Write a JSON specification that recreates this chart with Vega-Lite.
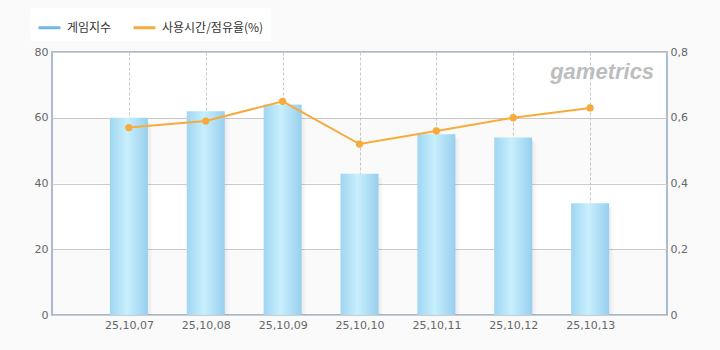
{
  "$schema": "https://vega.github.io/schema/vega-lite/v6.json",
  "autosize": {"type": "none"},
  "width": 615,
  "height": 263,
  "padding": {"left": 52, "top": 52, "right": 53, "bottom": 35},
  "background": "#fafafa",
  "config": {
    "view": {"fill": "white", "stroke": "#a9bcd2", "strokeWidth": 2},
    "font": "DejaVu Sans",
    "axis": {"labelColor": "#666666", "labelFontSize": 11, "labelFont": "DejaVu Sans", "domain": false, "ticks": false, "title": null}
  },
  "datasets": {
    "main": [
      {"date": "25,10,07", "index": 60, "share": 0.57},
      {"date": "25,10,08", "index": 62, "share": 0.59},
      {"date": "25,10,09", "index": 64, "share": 0.65},
      {"date": "25,10,10", "index": 43, "share": 0.52},
      {"date": "25,10,11", "index": 55, "share": 0.56},
      {"date": "25,10,12", "index": 54, "share": 0.60},
      {"date": "25,10,13", "index": 34, "share": 0.63}
    ],
    "bands": [{"lo": 0, "hi": 20}, {"lo": 40, "hi": 60}],
    "mark": [{"label": "gametrics", "date": "25,10,13", "y": 74}]
  },
  "layer": [
    {
      "layer": [
        {
          "data": {"name": "bands"},
          "mark": {"type": "rect", "fill": "black", "opacity": 0.02},
          "encoding": {
            "y": {"field": "lo", "type": "quantitative", "scale": {"domain": [0, 80], "nice": false}},
            "y2": {"field": "hi"}
          }
        },
        {
          "data": {"name": "main"},
          "mark": {"type": "bar", "width": 38, "xOffset": 5, "yOffset": 4, "clip": true,
            "fill": {"gradient": "linear", "x1": 0, "x2": 1, "y1": 0, "y2": 0,
              "stops": [{"offset": 0, "color": "rgba(0,0,0,0.12)"}, {"offset": 0.85, "color": "rgba(0,0,0,0.08)"}, {"offset": 1, "color": "rgba(0,0,0,0)"}]}},
          "encoding": {
            "x": {"field": "date", "type": "ordinal", "scale": {"type": "point", "padding": 1}},
            "y": {"field": "index", "type": "quantitative"}
          }
        },
        {
          "data": {"name": "main"},
          "mark": {"type": "bar", "width": 38, "strokeWidth": 0,
            "fill": {"gradient": "linear", "x1": 0, "x2": 1, "y1": 0, "y2": 0,
              "stops": [{"offset": 0, "color": "#9fd6f2"}, {"offset": 0.45, "color": "#c8effd"}, {"offset": 1, "color": "#98cfee"}]}},
          "encoding": {
            "x": {"field": "date", "type": "ordinal", "scale": {"type": "point", "padding": 1},
              "axis": {"grid": true, "gridColor": "#c8c8c8", "gridDash": [3, 2], "labelPadding": 10, "labelAngle": 0, "labelAlign": "center", "labelBound": false, "labelFlush": false}},
            "y": {"field": "index", "type": "quantitative",
              "axis": {"orient": "left", "values": [0, 20, 40, 60, 80], "grid": true, "gridColor": "#cccccc", "labelPadding": 4}},
            "stroke": {"datum": "게임지수", "type": "nominal",
              "scale": {"domain": ["게임지수", "사용시간/점유율(%)"], "range": ["#6fb8e3", "#f7ab3c"]},
              "legend": {"title": null, "orient": "none", "legendX": -22, "legendY": -44, "direction": "horizontal",
                "fillColor": "white", "padding": 7, "symbolType": "stroke", "symbolSize": 480, "symbolStrokeWidth": 3,
                "symbolOpacity": 1, "labelFontSize": 12, "labelColor": "#333333", "labelFont": "Noto Sans CJK KR",
                "columnPadding": 15, "labelOffset": 5}}
          }
        },
        {
          "data": {"name": "mark"},
          "mark": {"type": "text", "font": "Liberation Sans", "fontStyle": "italic", "fontWeight": "bold", "fontSize": 22, "color": "#bdbdbd", "dx": 12, "align": "center", "baseline": "middle"},
          "encoding": {
            "x": {"field": "date", "type": "ordinal"},
            "y": {"field": "y", "type": "quantitative"},
            "text": {"field": "label"}
          }
        }
      ]
    },
    {
      "data": {"name": "main"},
      "mark": {"type": "line", "color": "#fdbd5a", "strokeWidth": 2, "point": {"filled": true, "size": 28, "color": "#fbac38"}},
      "encoding": {
        "x": {"field": "date", "type": "ordinal"},
        "y": {"field": "share", "type": "quantitative",
          "scale": {"domain": [0, 0.8], "nice": false},
          "axis": {"orient": "right", "grid": false, "values": [0, 0.2, 0.4, 0.6, 0.8], "labelPadding": 3,
            "labelExpr": "datum.value == 0 ? '0' : replace(format(datum.value, '.1f'), '.', ',')"}},
        "stroke": {"datum": "사용시간/점유율(%)", "type": "nominal"}
      }
    }
  ],
  "resolve": {"scale": {"y": "independent"}}
}
